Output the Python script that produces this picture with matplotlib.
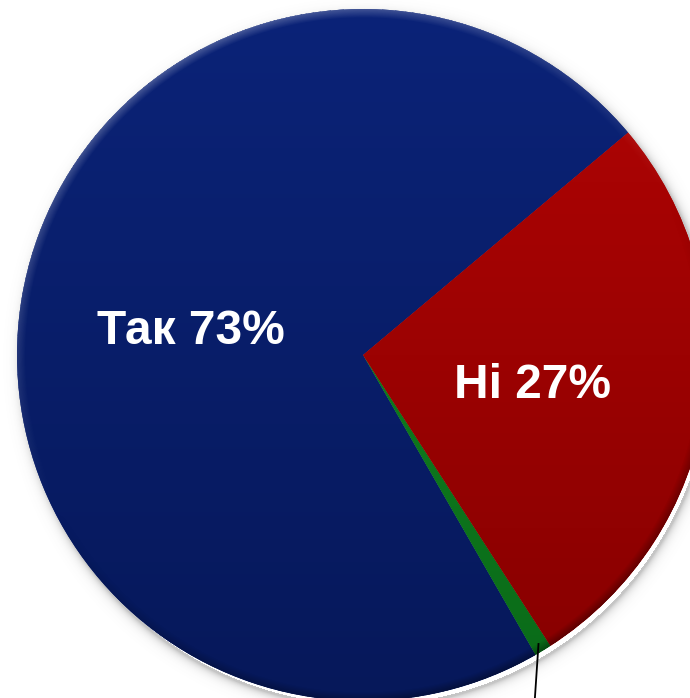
import numpy as np
import matplotlib
matplotlib.use("Agg")
import matplotlib.pyplot as plt
from matplotlib.colors import LinearSegmentedColormap

# ---- data ----
categories = ["Так", "Інше", "Ні"]
values = [72.2, 0.8, 27.0]
label_texts = ["Так 73%", None, "Ні 27%"]
colors_top = ["#0B2378", "#138A24", "#B20404"]
colors_bottom = ["#06185A", "#0A6A18", "#860000"]

W, H = 690, 698
fig = plt.figure(figsize=(W / 100, H / 100), dpi=100)
ax = fig.add_axes([0, 0, 1, 1])

cx, cy, R = 363, 698 - 355, 346

# soft shadow beneath the pie
yy, xx = np.mgrid[0:H, 0:W]
yy = H - yy - 0.5
xx = xx + 0.5
r_sh = np.hypot(xx - (cx + 4), yy - (cy - 6))
sh_alpha = np.clip(0.35 * np.exp(-(r_sh - R) / 4.0), 0, 0.35) * (r_sh > R - 2)
shadow = np.zeros((H, W, 4))
shadow[..., :3] = 0.35
shadow[..., 3] = sh_alpha

wedges, _ = ax.pie(values, colors=colors_top, startangle=40, counterclock=True,
                   center=(cx, cy), radius=R, frame=True,
                   wedgeprops=dict(linewidth=0))
ax.set_xlim(0, W)
ax.set_ylim(0, H)
ax.set_aspect("equal")
ax.axis("off")
ax.imshow(shadow, extent=(0, W, 0, H), origin="upper", zorder=0, interpolation="bilinear")

# vertical gradient fill per wedge
grad = np.linspace(0, 1, 256).reshape(-1, 1)
for w, ct, cb in zip(wedges, colors_top, colors_bottom):
    cmap = LinearSegmentedColormap.from_list("g", [ct, cb])
    im = ax.imshow(grad, cmap=cmap, extent=(cx - R, cx + R, cy - R, cy + R),
                   origin="upper", aspect="auto", zorder=2)
    im.set_clip_path(w)

# rim bevel
dx = xx - cx
dy = yy - cy
r = np.hypot(dx, dy) + 1e-9
wrim = np.clip((r - (R - 9)) / 9.0, 0, 1) * (r <= R)
L = np.array([-0.45, 0.89])
shade = (dx * L[0] + dy * L[1]) / r
bevel = np.zeros((H, W, 4))
pos = shade > 0
bevel[..., :3] = np.where(pos[..., None], 1.0, 0.0)
bevel[..., 3] = np.where(pos, wrim * shade * 0.25, wrim * (-shade) * 0.35)
ax.imshow(bevel, extent=(0, W, 0, H), origin="upper", zorder=3, interpolation="bilinear")
ax.set_xlim(0, W)
ax.set_ylim(0, H)

# labels
ax.text(190.5, H - 344, label_texts[0], color="white", fontsize=34.5,
        fontweight="bold", family="Liberation Sans", ha="center", va="baseline", zorder=5)
ax.text(532, H - 398, label_texts[2], color="white", fontsize=34.5,
        fontweight="bold", family="Liberation Sans", ha="center", va="baseline", zorder=5)

# leader line for the small slice (label outside the picture)
ang = np.deg2rad(40 + 360 * (values[0] + values[1] / 2) / sum(values))
x0 = cx + R * 0.975 * np.cos(ang)
y0 = cy + R * 0.975 * np.sin(ang)
ax.plot([x0, x0 - 4], [y0, -5], color="black", lw=1.3, zorder=6, solid_capstyle="butt")

fig.savefig("out.png", dpi=100)
